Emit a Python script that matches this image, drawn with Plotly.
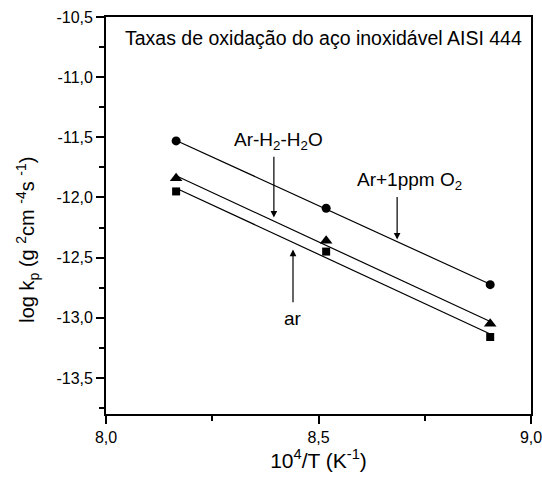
import numpy as np
import plotly.graph_objects as go

x_vals = [8.165, 8.518, 8.904]
y_o2 = [-11.53, -12.09, -12.725]      # Ar+1ppm O2 (circles)
y_h2 = [-11.84, -12.36, -13.05]       # Ar-H2-H2O (triangles)
y_ar = [-11.95, -12.45, -13.16]       # ar (squares)

series = [
    (y_o2, "circle", 9),
    (y_h2, "triangle-up", 11),
    (y_ar, "square", 8),
]

font = "Liberation Sans, Arial, Helvetica, sans-serif"
fig = go.Figure()
for ys, sym, sz in series:
    k, b = np.polyfit(x_vals, ys, 1)
    xe = [x_vals[0], x_vals[-1]]
    fig.add_trace(go.Scatter(x=xe, y=[k * v + b for v in xe], mode="lines",
                             line=dict(color="black", width=1.2), showlegend=False,
                             hoverinfo="skip"))
    fig.add_trace(go.Scatter(x=x_vals, y=ys, mode="markers",
                             marker=dict(symbol=sym, size=sz, color="black"),
                             showlegend=False))

axis_common = dict(showline=True, linecolor="black", linewidth=1.8, mirror=True,
                   ticks="outside", ticklen=8, tickwidth=1.8, tickcolor="black",
                   showgrid=False, zeroline=False, automargin=False,
                   ticklabeloverflow="allow",
                   tickfont=dict(family=font, size=16, color="black"))

fig.update_xaxes(range=[8.0, 9.0], tickvals=[8.0, 8.5, 9.0], ticktext=["8,0", "8,5", "9,0"],
                 minor=dict(tickvals=[8.25, 8.75], ticks="outside", ticklen=5, tickwidth=1.8, tickcolor="black"),
                 title=dict(text="10<sup>4</sup>/T (K<sup>-1</sup>)", font=dict(family=font, size=21, color="black"), standoff=8),
                 **axis_common)
yt = [-10.5, -11.0, -11.5, -12.0, -12.5, -13.0, -13.5]
fig.update_yaxes(range=[-13.8, -10.5], tickvals=yt, ticktext=[("%.1f" % v).replace(".", ",") for v in yt],
                 minor=dict(tickvals=[-10.75, -11.25, -11.75, -12.25, -12.75, -13.25, -13.75],
                            ticks="outside", ticklen=5, tickwidth=1.8, tickcolor="black"),
                 **axis_common)

# y-axis title placed as rotated text (centred lower than the plot middle, as in the original)
fig.add_annotation(x=-0.185, y=0.44, xref="paper", yref="paper", xanchor="center", yanchor="middle",
                   text="log k<sub>p</sub> (g <sup>2</sup>cm <sup>-4</sup>s <sup>-1</sup>)", textangle=-90,
                   showarrow=False, font=dict(family=font, size=20, color="black"))

ann_font = dict(family=font, size=19, color="black")
arrow = dict(showarrow=True, arrowhead=2, arrowsize=1.1, arrowwidth=1.2, arrowcolor="black",
             axref="x", ayref="y", text="")
fig.add_annotation(x=0.512, y=-10.675, xref="x domain", yref="y",
                   text="Taxas de oxidação do aço inoxidável AISI 444", showarrow=False,
                   font=dict(family=font, size=19.5, color="black"))
fig.add_annotation(x=8.405, y=-11.533, text="Ar-H<sub>2</sub>-H<sub>2</sub>O", showarrow=False, font=ann_font)
fig.add_annotation(x=8.395, y=-12.167, ax=8.395, ay=-11.65, **arrow)
fig.add_annotation(x=8.713, y=-11.867, text="Ar+1ppm O<sub>2</sub>", showarrow=False, font=ann_font)
fig.add_annotation(x=8.685, y=-12.35, ax=8.685, ay=-11.983, **arrow)
fig.add_annotation(x=8.44, y=-13.008, text="ar", showarrow=False, font=ann_font)
fig.add_annotation(x=8.44, y=-12.433, ax=8.44, ay=-12.883, **arrow)

fig.update_layout(width=542, height=481, margin=dict(l=106, r=11, t=17, b=67),
                  plot_bgcolor="white", paper_bgcolor="white", separators=",.",
                  font=dict(family=font, color="black"))
fig.write_html("out.html", config={"displayModeBar": False},
               post_script="document.body.style.margin='0px';")
